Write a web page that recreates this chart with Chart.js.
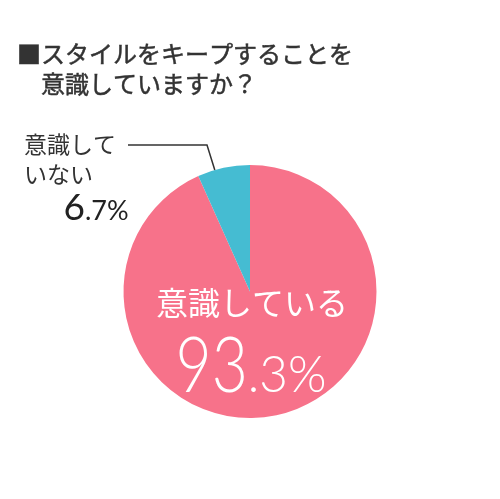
<!DOCTYPE html>
<html>
<head>
<meta charset="utf-8">
<script src="https://cdn.jsdelivr.net/npm/chart.js@4/dist/chart.umd.min.js"></script>
<style>
  html, body { margin: 0; padding: 0; background: #fff; }
  #wrap { width: 500px; height: 499px; }
</style>
</head>
<body>
<div id="wrap"><canvas id="myChart"></canvas></div>
<script>
const titleLines = ["■スタイルをキープすることを", "　意識していますか？"];
const labels = ["意識している", "意識していない"];
const values = [93.3, 6.7];
const colors = ["#F7728A", "#45BCD2"];

const jpFont = '"Noto Sans CJK JP", "Noto Sans", sans-serif';
const numFont = 'Lato, "DejaVu Sans", sans-serif';

// draws "93" big and ".3%" small on one baseline
function drawPercent(ctx, value, cx, baseline, bigSize, smallSize, sqBig, sqSmall, weight) {
    const parts = value.toFixed(1).split(".");
    const big = parts[0];
    const small = "." + parts[1] + "%";
    ctx.font = weight + " " + bigSize + "px " + numFont;
    const wBig = ctx.measureText(big).width * sqBig;
    ctx.font = weight + " " + smallSize + "px " + numFont;
    const wSmall = ctx.measureText(small).width * sqSmall;
    const x = cx - (wBig + wSmall) / 2;
    ctx.save();
    ctx.textAlign = "left";
    ctx.textBaseline = "alphabetic";

    ctx.save();
    ctx.translate(x, baseline);
    ctx.scale(sqBig, 1);
    ctx.font = weight + " " + bigSize + "px " + numFont;
    ctx.fillText(big, 0, 0);
    ctx.restore();

    ctx.translate(x + wBig, baseline);
    ctx.scale(sqSmall, 1);
    ctx.font = weight + " " + smallSize + "px " + numFont;
    ctx.fillText(small, 0, 0);
    ctx.restore();
}

const labelPlugin = {
    id: "labelPlugin",
    afterDraw(chart) {
        const ctx = chart.ctx;
        const arcs = chart.getDatasetMeta(0).data;
        ctx.save();

        // title, a little heavier than regular
        ctx.fillStyle = "#333";
        ctx.strokeStyle = "#333";
        ctx.lineWidth = 0.5;
        ctx.font = "24px " + jpFont;
        ctx.textAlign = "left";
        ctx.textBaseline = "middle";
        ctx.fillText(titleLines[0], 17, 54);
        ctx.strokeText(titleLines[0], 17, 54);
        ctx.fillText(titleLines[1], 17, 84);
        ctx.strokeText(titleLines[1], 17, 84);

        // big slice label, inside
        const a0 = arcs[0];
        ctx.fillStyle = "#fff";
        ctx.textAlign = "center";
        ctx.font = "32px " + jpFont;
        ctx.fillText(labels[0], a0.x + 2, a0.y + 11);
        drawPercent(ctx, values[0], a0.x + 1, a0.y + 100, 76, 52, 0.82, 0.95, "300");

        // small slice label, outside with leader line
        const a1 = arcs[1];
        const ang = a1.startAngle + (a1.endAngle - a1.startAngle) * 0.33;
        const ex = a1.x + Math.cos(ang) * a1.outerRadius;
        const ey = a1.y + Math.sin(ang) * a1.outerRadius;
        ctx.strokeStyle = "#333";
        ctx.lineWidth = 1.5;
        ctx.beginPath();
        ctx.moveTo(128, 145);
        ctx.lineTo(207, 145);
        ctx.lineTo(ex, ey);
        ctx.stroke();

        ctx.fillStyle = "#333";
        ctx.textAlign = "left";
        ctx.font = "23px " + jpFont;
        ctx.fillText("意識して", 24, 144);
        ctx.fillText("いない", 24, 174);
        ctx.fillStyle = "#222";
        drawPercent(ctx, values[1], 96, 220, 37, 27, 1.0, 1.0, "400");

        ctx.restore();
    }
};

const data = {
    labels: labels,
    datasets: [
        {
            data: values,
            backgroundColor: colors,
            borderWidth: 0
        }
    ]
};

const config = {
    type: "pie",
    data: data,
    options: {
        responsive: true,
        maintainAspectRatio: false,
        animation: false,
        layout: {
            padding: { top: 165, bottom: 81, left: 0, right: 0 }
        },
        plugins: {
            legend: { display: false },
            tooltip: { enabled: false }
        }
    },
    plugins: [labelPlugin]
};

const myChart = new Chart(document.getElementById("myChart"), config);
</script>
</body>
</html>
